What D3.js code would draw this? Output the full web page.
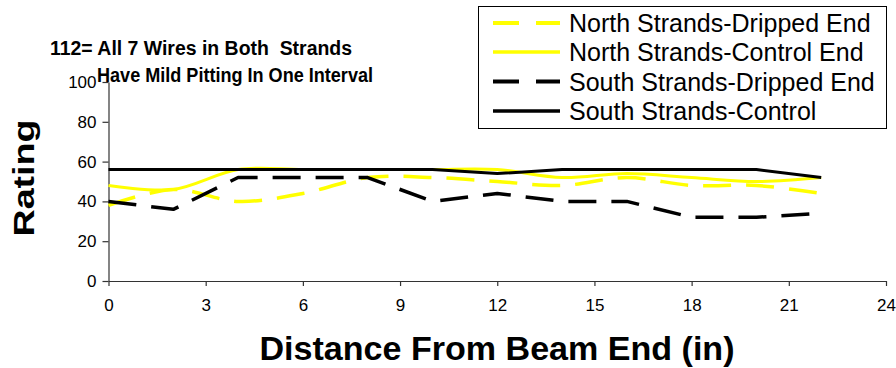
<!DOCTYPE html>
<html><head><meta charset="utf-8">
<script src="https://cdn.jsdelivr.net/npm/d3@7"></script>
<style>html,body{margin:0;padding:0;background:#fff;}svg{display:block;}</style>
</head><body>
<script>
const distances = [0, 2, 4, 6, 8, 10, 12, 14, 16, 18, 20, 22];
const northDripped = [38, 46, 40, 44, 52, 52, 50, 48, 52, 48, 48, 44];
const northControl = [48, 46, 56, 56, 56, 56, 56, 52, 54, 52, 50, 52];
const southDripped = [40, 36, 52, 52, 52, 40, 44, 40, 40, 32, 32, 34];
const southControl = [56, 56, 56, 56, 56, 56, 54, 56, 56, 56, 56, 52];
const seriesNames = ["North Strands-Dripped End", "North Strands-Control End", "South Strands-Dripped End", "South Strands-Control"];
const xTicks = [0, 3, 6, 9, 12, 15, 18, 21, 24];
const yTicks = [0, 20, 40, 60, 80, 100];
const titleLines = ["112= All 7 Wires in Both  Strands", "Have Mild Pitting In One Interval"];
const xTitle = "Distance From Beam End (in)";
const yTitle = "Rating";

const W = 896, H = 368;
const svg = d3.select("body").append("svg").attr("width", W).attr("height", H);
svg.append("rect").attr("width", W).attr("height", H).attr("fill", "#fff");

const x = d3.scaleLinear().domain([0, 24]).range([108.5, 886]);
const y = d3.scaleLinear().domain([0, 100]).range([281, 82]);
const font = "Liberation Sans, Arial, sans-serif";

// axes
const xAxis = svg.append("g").attr("transform", `translate(0,${y(0)})`)
  .call(d3.axisBottom(x).tickValues(xTicks).tickSize(5).tickPadding(13).tickSizeOuter(0));
const yAxis = svg.append("g").attr("transform", `translate(${x(0)},0)`)
  .call(d3.axisLeft(y).tickValues(yTicks).tickSize(6).tickPadding(6).tickSizeOuter(0));
[xAxis, yAxis].forEach(g => {
  g.attr("font-size", 17).attr("font-family", font);
  g.select(".domain").attr("stroke", "#333").attr("stroke-width", 1.2);
  g.selectAll(".tick line").attr("stroke", "#333").attr("stroke-width", 1.2);
  g.selectAll(".tick text").attr("font-family", font).attr("font-size", 17).attr("fill", "#000");
});

const series = [
  {name: seriesNames[0], values: northDripped, color: "#ffff00", dash: "28,15", width: 3.5, curve: d3.curveCatmullRom.alpha(0)},
  {name: seriesNames[1], values: northControl, color: "#ffff00", dash: null, width: 3, curve: d3.curveCatmullRom.alpha(0)},
  {name: seriesNames[2], values: southDripped, color: "#000000", dash: "28,15", width: 3.5, curve: d3.curveLinear},
  {name: seriesNames[3], values: southControl, color: "#000000", dash: null, width: 3, curve: d3.curveLinear}
];

series.forEach(s => {
  const line = d3.line().x((d, i) => x(distances[i])).y(d => y(d)).curve(s.curve);
  svg.append("path").datum(s.values)
    .attr("d", line).attr("fill", "none")
    .attr("stroke", s.color).attr("stroke-width", s.width)
    .attr("stroke-dasharray", s.dash).attr("stroke-linejoin", "round");
});

// title
svg.append("text").attr("x", 50).attr("y", 55).text(titleLines[0])
  .style("white-space", "pre").attr("xml:space", "preserve")
  .attr("font-family", font).attr("font-weight", "bold").attr("font-size", 20).attr("fill", "#000")
  .attr("textLength", 302).attr("lengthAdjust", "spacingAndGlyphs");
svg.append("text").attr("x", 97).attr("y", 82).text(titleLines[1])
  .attr("font-family", font).attr("font-weight", "bold").attr("font-size", 20).attr("fill", "#000")
  .attr("textLength", 276).attr("lengthAdjust", "spacingAndGlyphs");

// axis titles
svg.append("text").attr("x", 497).attr("y", 360).attr("text-anchor", "middle").text(xTitle)
  .attr("font-family", font).attr("font-weight", "bold").attr("font-size", 33).attr("fill", "#000")
  .attr("textLength", 475).attr("lengthAdjust", "spacingAndGlyphs");
svg.append("text").attr("transform", "translate(34,178) rotate(-90)").attr("text-anchor", "middle").text(yTitle)
  .attr("font-family", font).attr("font-weight", "bold").attr("font-size", 30).attr("fill", "#000")
  .attr("textLength", 117).attr("lengthAdjust", "spacingAndGlyphs");

// legend
const lg = svg.append("g");
lg.append("rect").attr("x", 478.5).attr("y", 6.5).attr("width", 408).attr("height", 122)
  .attr("fill", "#fff").attr("stroke", "#000").attr("stroke-width", 1);
const rowY = [23, 52, 81.5, 111];
series.forEach((s, i) => {
  lg.append("line").attr("x1", 493).attr("x2", 560).attr("y1", rowY[i]).attr("y2", rowY[i])
    .attr("stroke", s.color).attr("stroke-width", s.width + 0.5)
    .attr("stroke-dasharray", s.dash ? "26,17" : null);
  lg.append("text").attr("x", 569).attr("y", rowY[i] + 9).text(s.name)
    .attr("font-family", font).attr("font-size", 25).attr("fill", "#000");
});
</script>
</body></html>
